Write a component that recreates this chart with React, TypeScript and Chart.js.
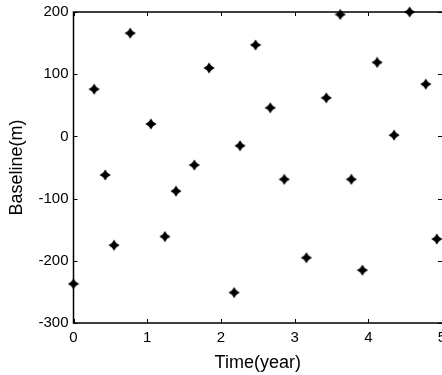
import React, { useEffect, useRef } from "react";
import { Chart, registerables } from "chart.js";

Chart.register(...registerables);

const timeYears = [0, 0.28, 0.43, 0.55, 0.77, 1.05, 1.24, 1.39, 1.64, 1.84, 2.18, 2.26, 2.47, 2.67, 2.86, 3.16, 3.43, 3.62, 3.77, 3.92, 4.12, 4.35, 4.56, 4.78, 4.93];
const baselines = [-237, 76, -62, -175, 166, 20, -161, -88, -46, 110, -251, -15, 147, 46, -69, -195, 62, 196, -69, -215, 119, 2, 200, 84, -165];
const xTicks = [0, 1, 2, 3, 4, 5];
const yTicks = [-300, -200, -100, 0, 100, 200];
const xTitle = "Time(year)";
const yTitle = "Baseline(m)";

function makeStar(): HTMLCanvasElement {
  const c = document.createElement("canvas");
  const s = 12;
  c.width = s;
  c.height = s;
  const g = c.getContext("2d")!;
  g.fillStyle = "#000";
  g.beginPath();
  const cx = 6, cy = 6, R = 5.6, r = 3.1;
  for (let i = 0; i < 8; i++) {
    const a = (i * Math.PI) / 4 - Math.PI / 2;
    const rad = i % 2 === 0 ? R : r;
    const px = cx + rad * Math.cos(a);
    const py = cy + rad * Math.sin(a);
    if (i === 0) g.moveTo(px, py);
    else g.lineTo(px, py);
  }
  g.closePath();
  g.fill();
  return c;
}

const framePlugin = {
  id: "frame",
  beforeDatasetsDraw(chart: any) {
    const { ctx, chartArea, scales } = chart;
    const { left, top, right, bottom } = chartArea;
    const x = scales.x;
    const y = scales.y;
    ctx.save();
    ctx.strokeStyle = "#000";
    ctx.lineWidth = 1.5;
    ctx.beginPath();
    ctx.moveTo(right, top);
    ctx.lineTo(left, top);
    ctx.lineTo(left, bottom);
    ctx.lineTo(right, bottom);
    ctx.stroke();
    ctx.lineWidth = 1;
    const L = 4;
    ctx.beginPath();
    xTicks.forEach((v) => {
      const px = Math.round(x.getPixelForValue(v)) + 0.5;
      ctx.moveTo(px, bottom);
      ctx.lineTo(px, bottom - L);
      ctx.moveTo(px, top);
      ctx.lineTo(px, top + L);
    });
    yTicks.forEach((v) => {
      const py = Math.round(y.getPixelForValue(v)) + 0.5;
      ctx.moveTo(left, py);
      ctx.lineTo(left + L, py);
      ctx.moveTo(right, py);
      ctx.lineTo(right - L, py);
    });
    ctx.stroke();
    ctx.restore();
  },
};

export default function App() {
  const ref = useRef<HTMLCanvasElement>(null);
  useEffect(() => {
    document.body.style.margin = "0";
    const star = makeStar();
    const data = timeYears.map((t, i) => ({ x: t, y: baselines[i] }));
    const tickFont = { family: "'Liberation Sans', Arial, sans-serif", size: 15 };
    const titleFont = { family: "'Liberation Sans', Arial, sans-serif", size: 18 };
    const chart = new Chart(ref.current!, {
      type: "scatter",
      data: {
        datasets: [
          {
            data,
            pointStyle: star as any,
            pointRadius: 6,
            backgroundColor: "#000",
            borderColor: "#000",
            clip: false as any,
          },
        ],
      },
      plugins: [framePlugin],
      options: {
        responsive: false,
        animation: false,
        layout: { autoPadding: false, padding: { top: 12, left: 0, right: 0, bottom: 0 } } as any,
        plugins: { legend: { display: false }, tooltip: { enabled: false } },
        scales: {
          x: {
            type: "linear",
            min: 0,
            max: 5,
            afterBuildTicks: (s: any) => {
              s.ticks = xTicks.map((v) => ({ value: v }));
            },
            afterFit: (s: any) => {
              s.height = 52;
              s.paddingLeft = 0;
              s.paddingRight = 0;
            },
            grid: { display: false, drawTicks: false },
            border: { display: false },
            ticks: { color: "#000", font: tickFont, padding: 6, maxRotation: 0, autoSkip: false },
            title: { display: true, text: xTitle, color: "#000", font: titleFont, padding: { top: 0, bottom: 1 } },
          },
          y: {
            type: "linear",
            min: -300,
            max: 200,
            afterBuildTicks: (s: any) => {
              s.ticks = yTicks.map((v) => ({ value: v }));
            },
            afterFit: (s: any) => {
              s.width = 73.5;
              s.paddingTop = 0;
              s.paddingBottom = 0;
            },
            grid: { display: false, drawTicks: false },
            border: { display: false },
            ticks: { color: "#000", font: tickFont, padding: 5, autoSkip: false },
            title: { display: true, text: yTitle, color: "#000", font: titleFont, padding: { top: 6, bottom: 0 } },
          },
        },
      },
    });
    return () => chart.destroy();
  }, []);
  return (
    <div style={{ position: "fixed", left: 0, top: 0, width: 442, height: 375, background: "#fff" }}>
      <canvas ref={ref} width={442} height={375} style={{ width: 442, height: 375, display: "block" }} />
    </div>
  );
}
